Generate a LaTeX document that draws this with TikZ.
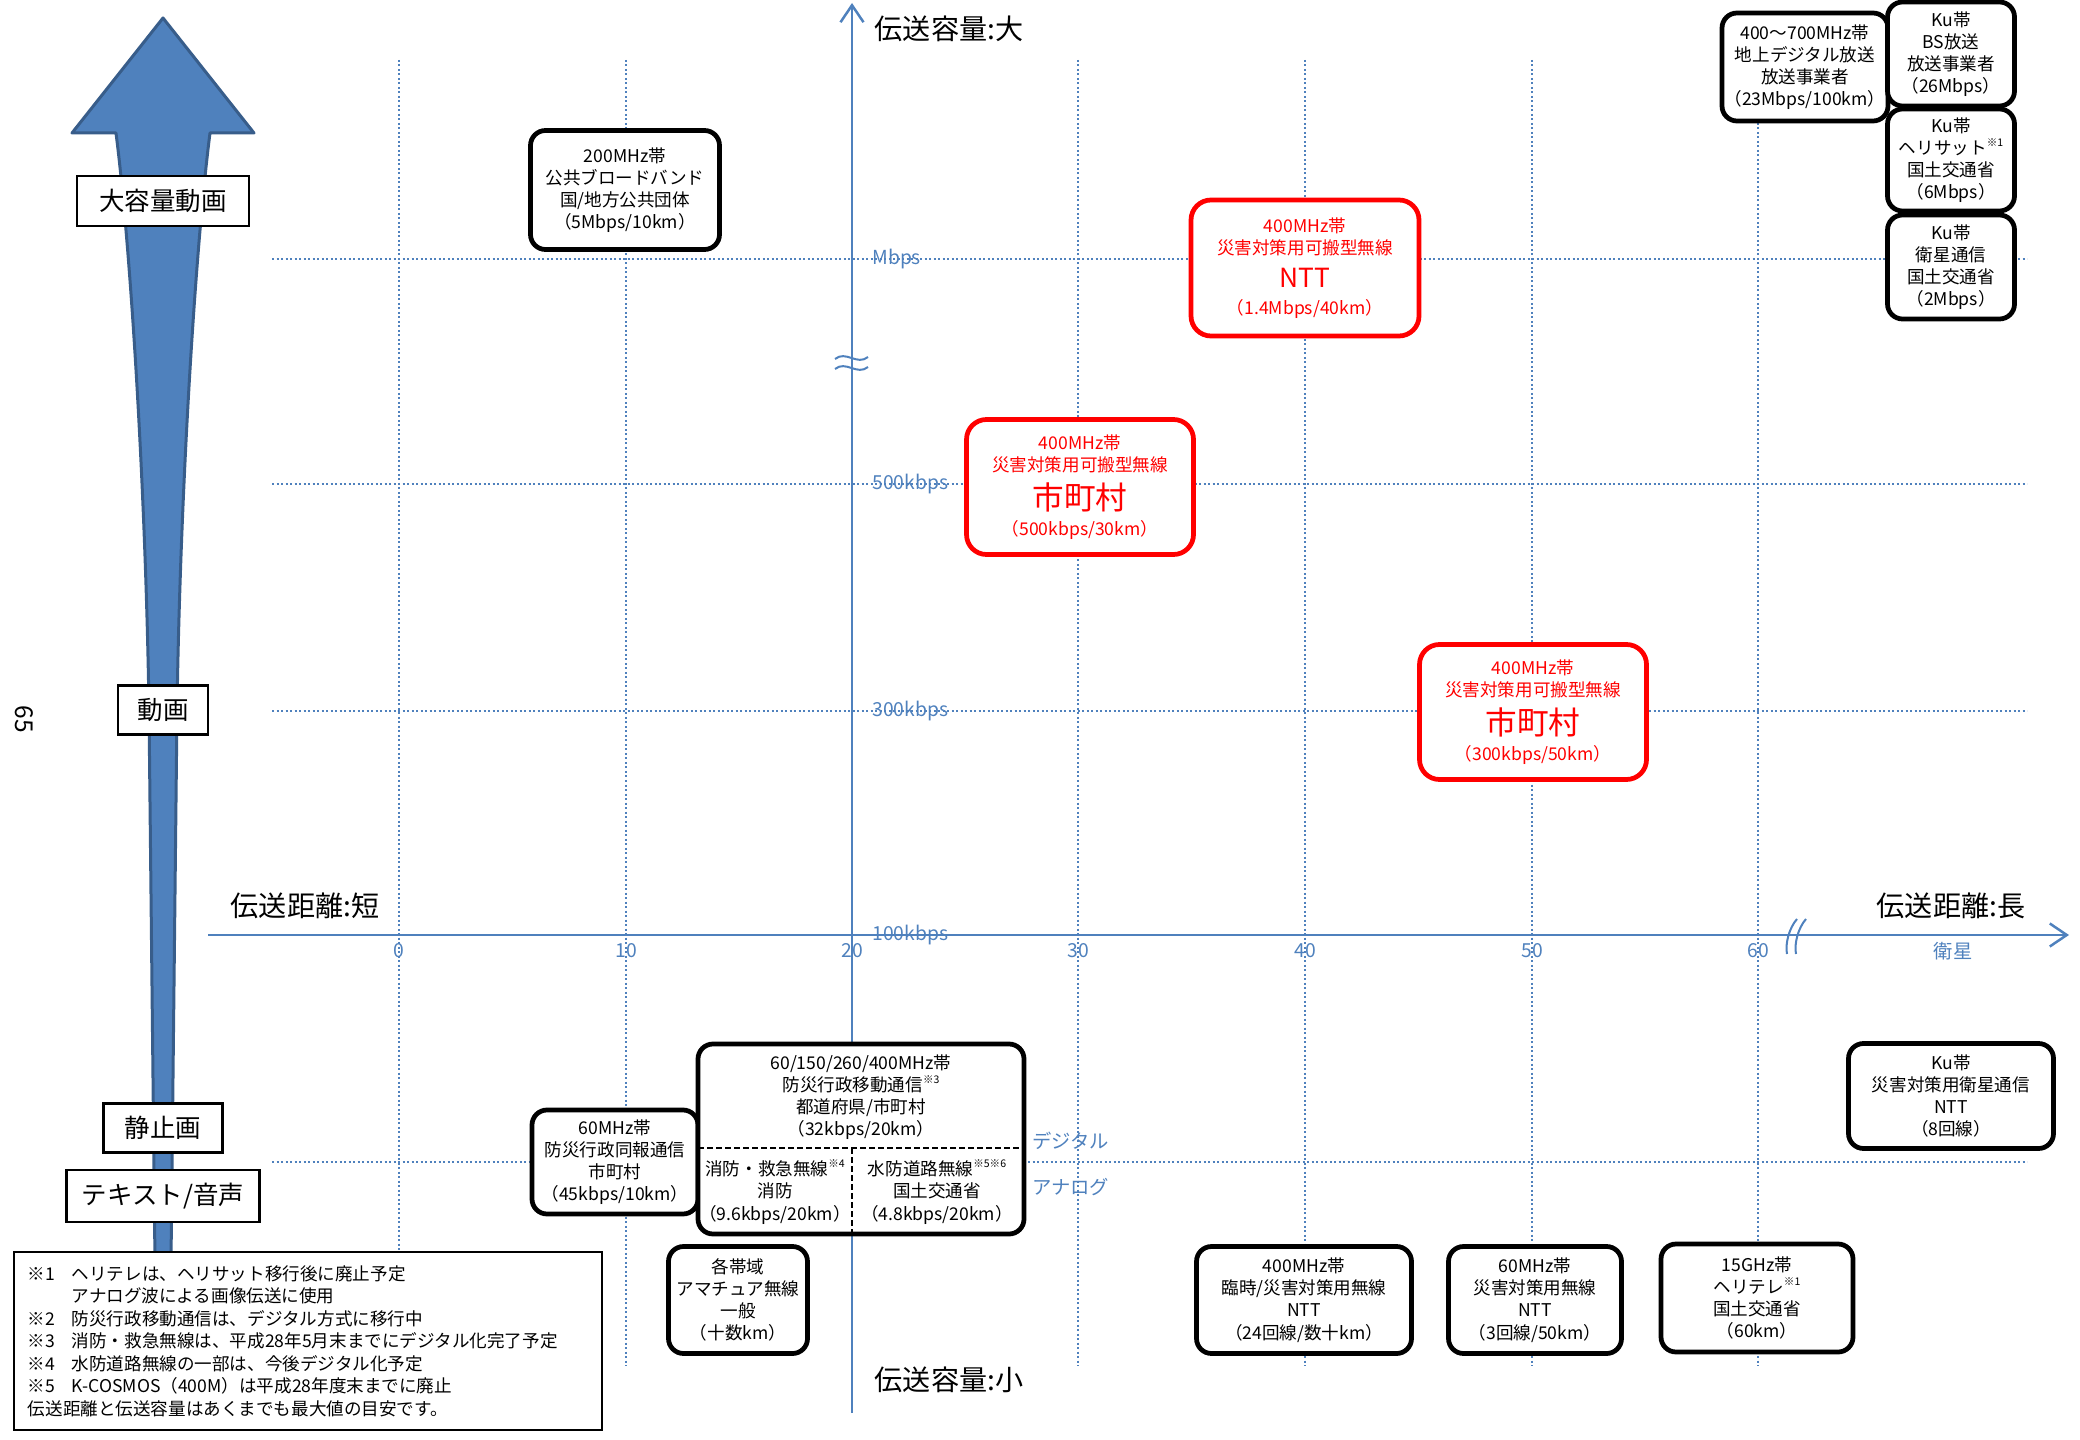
\documentclass[tikz,border=0pt]{standalone}
\usepackage{fontspec}
\setmainfont{Noto Sans CJK JP}
\usepackage{xcolor}
\usepackage{tikz}
\usetikzlibrary{arrows.meta,calc}
\definecolor{ChartAxis}{HTML}{4F81BD}
\definecolor{ChartShaft}{HTML}{4F81BD}
\definecolor{ChartShaftEdge}{HTML}{385D8A}
\definecolor{ChartAlert}{HTML}{FF0000}
\newcommand{\noteref}[1]{\raisebox{0.85ex}{\fontsize{6}{6}\selectfont #1}}
\newcommand{\notemark}[1]{\makebox[2.5em][l]{#1}}
\tikzset{
  band box/.style={
    draw=black,
    fill=white,
    rounded corners=3mm,
    line width=0.95mm,
    font=\fontsize{10}{12.6}\selectfont,
    align=center,
    inner sep=1pt
  },
  band alert/.style={
    band box,
    draw=ChartAlert,
    text=ChartAlert,
    rounded corners=4mm
  },
  tier label/.style={
    draw=black,
    fill=white,
    line width=0.45mm,
    font=\fontsize{14.5}{16}\selectfont,
    inner sep=0pt
  },
  scale tick/.style={
    text=ChartAxis,
    font=\fontsize{11}{13}\selectfont,
    inner sep=0pt
  },
  axis title/.style={
    font=\fontsize{16}{18}\selectfont,
    inner sep=0pt
  },
  grid dots/.style={ChartAxis, line width=0.4mm, dash pattern=on 0.4mm off 0.5mm},
  axis arr/.style={-{Straight Barb[length=3.4mm, width=4.6mm]}, ChartAxis, line width=0.5mm}
}

\begin{document}
\begin{tikzpicture}[x=0.2mm, y=-0.2mm]
  \useasboundingbox (0,0) rectangle (2080,1440);

  \foreach \gx in {399,626,1078,1305,1532,1758}
    \draw[grid dots] (\gx,60) -- (\gx,1366);
  \foreach \gy in {259,484,711,1162}
    \draw[grid dots] (272,\gy) -- (2027,\gy);

  \coordinate (xstart) at (208,935);
  \coordinate (xend) at (2069,935);
  \coordinate (ystart) at (852,1413);
  \coordinate (yend) at (852,3);
  \draw[axis arr] (xstart) -- (xend);
  \draw[axis arr] (ystart) -- (yend);
  \draw[ChartAxis, line width=0.4mm] (1797,919) .. controls (1789,928) and (1785,944) .. (1787,954);
  \draw[ChartAxis, line width=0.4mm] (1806,919) .. controls (1798,928) and (1794,944) .. (1796,954);
  \draw[ChartAxis, line width=0.4mm] (835,359) .. controls (846,350) and (857,366) .. (868,357);
  \draw[ChartAxis, line width=0.4mm] (835,369) .. controls (846,360) and (857,376) .. (868,367);

  \foreach \gx/\gv in {399/0,626/10,852/20,1078/30,1305/40,1532/50,1758/60}
    \node[scale tick] (tick\gv) at (\gx,951) {\gv};
  \node[scale tick] (tickSat) at (1953,951) {衛星};
  \node[scale tick, anchor=west] (rateM) at (872,259) {Mbps};
  \node[scale tick, anchor=west] (rate500) at (872,484) {500kbps};
  \node[scale tick, anchor=west] (rate300) at (872,711) {300kbps};
  \node[scale tick, anchor=west] (rate100) at (872,935) {100kbps};
  \node[scale tick, anchor=west] (modeDigital) at (1032,1141) {デジタル};
  \node[scale tick, anchor=west] (modeAnalog) at (1032,1187) {アナログ};

  \node[axis title] (capHigh) at (949,29) {伝送容量:大};
  \node[axis title] (capLow) at (949,1380) {伝送容量:小};
  \node[axis title] (distShort) at (305,906) {伝送距離:短};
  \node[axis title] (distLong) at (1951,906) {伝送距離:長};
  \node[rotate=-90, font=\fontsize{14}{16}\selectfont] (pageNo) at (24,719) {65};

  \draw[fill=ChartShaft, draw=ChartShaftEdge, line width=0.6mm, line join=round]
    (163,18) -- (254,133) -- (210,133)
    .. controls (195,250) and (180,500) .. (177,710) -- (171,1262) -- (155,1262) -- (149,710)
    .. controls (146,500) and (131,250) .. (116,133) -- (72,133) -- cycle;
  \node[tier label, minimum width=34.4mm, minimum height=10mm] (tierLarge) at (163,201) {大容量動画};
  \node[tier label, minimum width=18mm, minimum height=9.8mm] (tierVideo) at (163,710) {動画};
  \node[tier label, minimum width=23.8mm, minimum height=9.8mm] (tierStill) at (163,1128) {静止画};
  \node[tier label, minimum width=38.6mm, minimum height=10.4mm] (tierText) at (163,1196) {テキスト/音声};

  \node[band box, minimum width=37.8mm, minimum height=23.8mm] (broadband) at (625,190)
    {200MHz帯\\公共ブロードバンド\\国/地方公共団体\\（5Mbps/10km）};
  \node[band alert, minimum width=45.6mm, minimum height=27.2mm] (portableNTT) at (1305,268)
    {400MHz帯\\災害対策用可搬型無線\\[6.5pt]{\fontsize{15}{18}\selectfont NTT}\\[2.5pt]（1.4Mbps/40km）};
  \node[band alert, minimum width=45.4mm, minimum height=27mm] (portableCity) at (1080,487)
    {400MHz帯\\災害対策用可搬型無線\\[4.5pt]{\fontsize{18}{20}\selectfont 市町村}\\[2.5pt]（500kbps/30km）};
  \node[band alert, minimum width=45.4mm, minimum height=27mm] (portableCityFar) at (1533,712)
    {400MHz帯\\災害対策用可搬型無線\\[4.5pt]{\fontsize{18}{20}\selectfont 市町村}\\[2.5pt]（300kbps/50km）};

  \node[band box, minimum width=33.2mm, minimum height=21.6mm] (terrestrial) at (1805,67)
    {400〜700MHz帯\\地上デジタル放送\\放送事業者\\（23Mbps/100km）};
  \node[band box, minimum width=25.4mm, minimum height=20.8mm] (kuBS) at (1951,54)
    {Ku帯\\BS放送\\放送事業者\\（26Mbps）};
  \node[band box, minimum width=25.4mm, minimum height=20.4mm] (kuHeli) at (1951,160)
    {Ku帯\\ヘリサット\noteref{※1}\\国土交通省\\（6Mbps）};
  \node[band box, minimum width=25.4mm, minimum height=20.8mm] (kuSat) at (1951,267)
    {Ku帯\\衛星通信\\国土交通省\\（2Mbps）};
  \node[band box, minimum width=41mm, minimum height=21mm] (kuNTT) at (1951,1096)
    {Ku帯\\災害対策用衛星通信\\NTT\\（8回線）};

  \node[band box, minimum width=33.2mm, minimum height=20.8mm] (broadcast) at (615,1162)
    {60MHz帯\\防災行政同報通信\\市町村\\（45kbps/10km）};
  \node[band box, minimum width=65.2mm, minimum height=38mm] (mobile) at (861,1139) {};
  \coordinate (splitW) at (698,1148);
  \coordinate (splitE) at (1024,1148);
  \coordinate (splitN) at (852,1148);
  \coordinate (splitS) at (852,1234);
  \draw[line width=0.4mm, dash pattern=on 1.1mm off 0.7mm] (splitW) -- (splitE);
  \draw[line width=0.4mm, dash pattern=on 1.1mm off 0.7mm] (splitN) -- (splitS);
  \node[align=center, font=\fontsize{10}{12.6}\selectfont] (mobileTop) at (861,1097)
    {60/150/260/400MHz帯\\防災行政移動通信\noteref{※3}\\都道府県/市町村\\（32kbps/20km）};
  \node[align=center, font=\fontsize{10}{12.6}\selectfont] (mobileFire) at (775,1192)
    {消防・救急無線\noteref{※4}\\消防\\（9.6kbps/20km）};
  \node[align=center, font=\fontsize{10}{12.6}\selectfont] (mobileRiver) at (937,1192)
    {水防道路無線\noteref{※5※6}\\国土交通省\\（4.8kbps/20km）};

  \node[band box, minimum width=27.8mm, minimum height=21.4mm] (amateur) at (738,1300)
    {各帯域\\アマチュア無線\\一般\\（十数km）};
  \node[band box, minimum width=43mm, minimum height=21.4mm] (temporary) at (1304,1300)
    {400MHz帯\\臨時/災害対策用無線\\NTT\\（24回線/数十km）};
  \node[band box, minimum width=34.6mm, minimum height=21.4mm] (disaster60) at (1535,1300)
    {60MHz帯\\災害対策用無線\\NTT\\（3回線/50km）};
  \node[band box, minimum width=38.4mm, minimum height=21.6mm] (heliTele) at (1757,1298)
    {15GHz帯\\ヘリテレ\noteref{※1}\\国土交通省\\（60km）};

  \node[draw=black, fill=white, line width=0.35mm, anchor=north west,
    text width=112mm, inner xsep=2.8mm, minimum height=35.6mm, align=left,
    font=\fontsize{10}{12.8}\selectfont] (notes) at (13,1251)
    {\notemark{※1}ヘリテレは、ヘリサット移行後に廃止予定\\
     \notemark{}アナログ波による画像伝送に使用\\
     \notemark{※2}防災行政移動通信は、デジタル方式に移行中\\
     \notemark{※3}消防・救急無線は、平成28年5月末までにデジタル化完了予定\\
     \notemark{※4}水防道路無線の一部は、今後デジタル化予定\\
     \notemark{※5}K-COSMOS（400M）は平成28年度末までに廃止\\
     伝送距離と伝送容量はあくまでも最大値の目安です。};
\end{tikzpicture}
\end{document}
